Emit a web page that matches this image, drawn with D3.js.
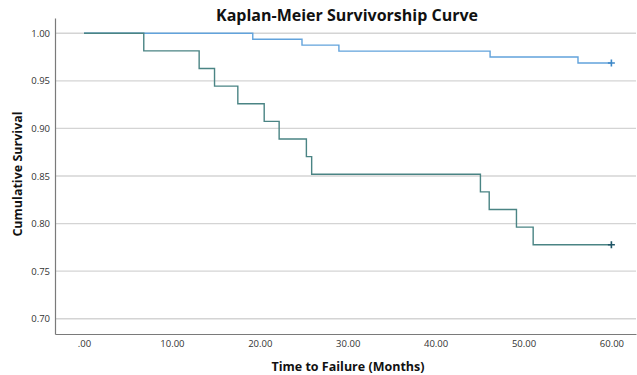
<!DOCTYPE html>
<html>
<head>
<meta charset="utf-8">
<script src="https://cdn.jsdelivr.net/npm/d3@7"></script>
<style>
  body { margin: 0; background: #fff; }
  svg text { font-family: "Open Sans", "Noto Sans", sans-serif; }
</style>
</head>
<body>
<div id="chart"></div>
<script>
// 目盛り
var xTicks = [0, 10, 20, 30, 40, 50, 60];
var yTicks = [0.70, 0.75, 0.80, 0.85, 0.90, 0.95, 1.00];

// 青の群（イベント時点と生存率）
var blueTimes = [0, 19.2, 24.8, 29.0, 46.2, 56.2];
var blueSurv  = [1.0, 0.99375, 0.9875, 0.98125, 0.975, 0.96875];
var blueEnd = 60;

// 緑の群
var tealTimes = [0, 6.8, 13.1, 14.85, 17.5, 20.5, 22.2, 25.3, 25.9, 45.1, 46.1, 49.2, 51.1];
var tealSurv  = [1.0, 0.98148, 0.96296, 0.94444, 0.92593, 0.90741, 0.88889, 0.87037, 0.85185, 0.83333, 0.81481, 0.79630, 0.77778];
var tealEnd = 60;

var width = 637, height = 375;
var margin = {top: 18, right: 1, bottom: 41, left: 55};

var svg = d3.select("#chart").append("svg")
    .attr("width", width)
    .attr("height", height);

var xScale = d3.scaleLinear()
    .domain([-3.3, 62.8])
    .range([margin.left, width - margin.right]);
var yScale = d3.scaleLinear()
    .domain([0.684, 1.016])
    .range([height - margin.bottom, margin.top]);

// グリッド線
svg.append("g")
    .selectAll("line")
    .data(yTicks)
    .enter()
    .append("line")
    .attr("x1", margin.left)
    .attr("x2", width - margin.right)
    .attr("y1", function(d){ return yScale(d); })
    .attr("y2", function(d){ return yScale(d); })
    .attr("stroke", "#d4d4d4")
    .attr("stroke-width", 1.3);

// 軸
var yAxis = svg.append("g")
    .attr("transform", "translate(" + margin.left + ",0)")
    .call(d3.axisLeft(yScale).tickValues(yTicks).tickSize(0).tickPadding(5)
        .tickFormat(d3.format(".2f")));
var xAxis = svg.append("g")
    .attr("transform", "translate(0," + (height - margin.bottom) + ")")
    .call(d3.axisBottom(xScale).tickValues(xTicks).tickSize(0).tickPadding(6)
        .tickFormat(function(d){ return d === 0 ? ".00" : d3.format(".2f")(d); }));

[yAxis, xAxis].forEach(function(ax){
  ax.select(".domain").attr("stroke", "#7a7a7a").attr("stroke-width", 1.2);
  ax.selectAll("text").attr("fill", "#333").style("font-size", "9.5px");
});

// 階段状の生存曲線
function stepPoints(times, surv, end) {
  var pts = [];
  for (var i = 0; i < times.length; i++) {
    if (i > 0) pts.push([times[i], surv[i - 1]]);
    pts.push([times[i], surv[i]]);
  }
  pts.push([end, surv[surv.length - 1]]);
  return pts;
}

var line = d3.line()
    .x(function(d){ return xScale(d[0]); })
    .y(function(d){ return yScale(d[1]); });

var series = [
  {times: blueTimes, surv: blueSurv, end: blueEnd, color: "#62a3dc", mark: "#3d88c8"},
  {times: tealTimes, surv: tealSurv, end: tealEnd, color: "#4a8484", mark: "#1f5566"}
];

series.forEach(function(s){
  svg.append("path")
      .datum(stepPoints(s.times, s.surv, s.end))
      .attr("d", line)
      .attr("fill", "none")
      .attr("stroke", s.color)
      .attr("stroke-width", 1.4);
  // 打ち切りマーク
  var cx = xScale(s.end), cy = yScale(s.surv[s.surv.length - 1]);
  svg.append("path")
      .attr("d", "M" + (cx - 3.5) + "," + cy + "h7M" + cx + "," + (cy - 3.5) + "v7")
      .attr("stroke", s.mark)
      .attr("stroke-width", 1.6);
});

// タイトルとラベル
svg.append("text")
    .attr("x", 347)
    .attr("y", 21)
    .attr("text-anchor", "middle")
    .style("font-size", "16px")
    .style("font-weight", "bold")
    .attr("fill", "#111")
    .text("Kaplan-Meier Survivorship Curve");

svg.append("text")
    .attr("transform", "translate(22,174) rotate(-90)")
    .attr("text-anchor", "middle")
    .style("font-size", "12.5px")
    .style("font-weight", "bold")
    .attr("fill", "#111")
    .text("Cumulative Survival");

svg.append("text")
    .attr("x", 348)
    .attr("y", 371)
    .attr("text-anchor", "middle")
    .style("font-size", "12.5px")
    .style("font-weight", "bold")
    .attr("fill", "#111")
    .text("Time to Failure (Months)");
</script>
</body>
</html>
